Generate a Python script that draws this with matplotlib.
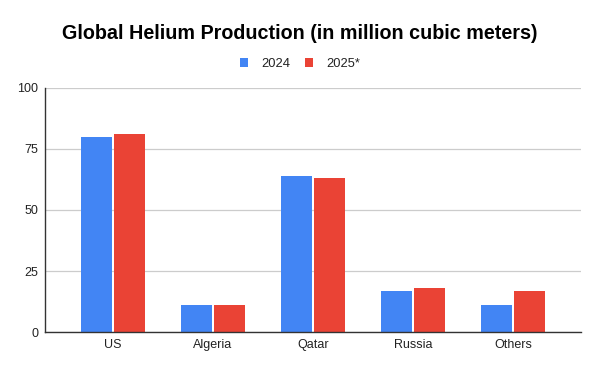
import matplotlib
matplotlib.use("Agg")
import matplotlib.pyplot as plt
import numpy as np

categories = ["US", "Algeria", "Qatar", "Russia", "Others"]
series_names = ["2024", "2025*"]
values_2024 = [80, 11, 64, 17, 11]
values_2025 = [81, 11, 63, 18, 17]
yticks = [0, 25, 50, 75, 100]
colors = ["#4285F4", "#EA4335"]

plt.rcParams['font.family'] = ['Liberation Sans', 'DejaVu Sans']

fig = plt.figure(figsize=(6, 3.71), dpi=100)
ax = fig.add_axes([0.075, 0.105, 0.893, 0.658])

x = np.arange(len(categories))
w = 0.31
gap = 0.01
ax.bar(x - w / 2 - gap, values_2024, w, color=colors[0], label=series_names[0], zorder=3)
ax.bar(x + w / 2 + gap, values_2025, w, color=colors[1], label=series_names[1], zorder=3)

ax.set_xlim(-0.68, len(categories) - 0.32)
ax.set_ylim(0, 100)
ax.set_yticks(yticks)
ax.set_yticklabels([str(t) for t in yticks], fontsize=9, color="#222222")
ax.set_xticks(x)
ax.set_xticklabels(categories, fontsize=9, color="#222222")
ax.tick_params(axis='both', length=0, pad=5)
ax.grid(axis='y', color="#cccccc", linewidth=0.9, zorder=0)
for s in ["top", "right"]:
    ax.spines[s].set_visible(False)
ax.spines["left"].set_color("#333333")
ax.spines["bottom"].set_color("#333333")
ax.spines["left"].set_linewidth(1.0)
ax.spines["bottom"].set_linewidth(1.0)
ax.spines["left"].set_zorder(4)
ax.spines["bottom"].set_zorder(4)

fig.text(0.5, 0.91, "Global Helium Production (in million cubic meters)",
         ha="center", va="center", fontsize=14.2, fontweight="bold", color="#000000")

leg = fig.legend(loc="center", bbox_to_anchor=(0.5, 0.828), ncol=2, frameon=False,
                 fontsize=9.3, handlelength=0.65, handleheight=0.8, handletextpad=1.0,
                 columnspacing=1.15)
for t in leg.get_texts():
    t.set_color("#222222")

fig.savefig("out.png", dpi=100, facecolor="white")
